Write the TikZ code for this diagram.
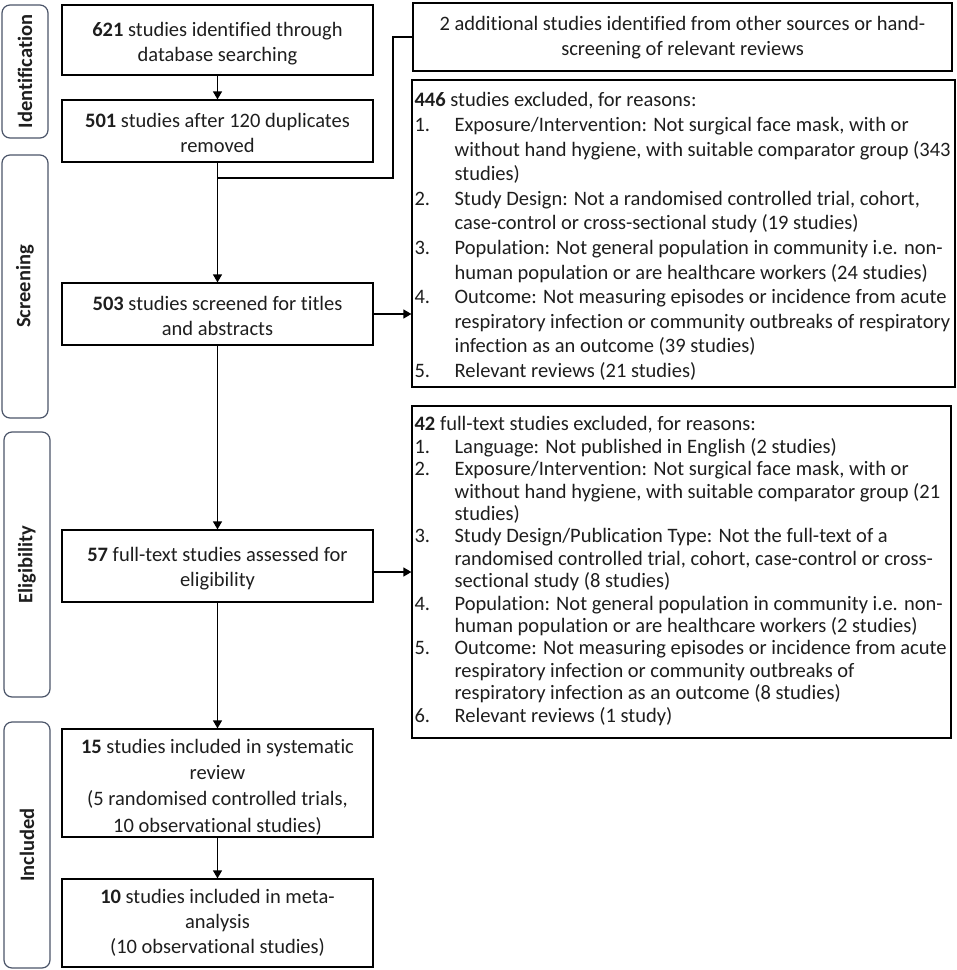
\documentclass[tikz,border=0pt]{standalone}
\usepackage{fontspec}
\setmainfont{Carlito}[Ligatures=NoCommon]
\usetikzlibrary{arrows.meta}
\newcommand\mainboxfont{\fontsize{20.5}{25}\selectfont}
\newcommand\incfont{\fontsize{20.5}{26.3}\selectfont}
\newcommand\listAfont{\fontsize{20.5}{24.6}\selectfont}
\newcommand\listBfont{\fontsize{20.5}{22.4}\selectfont}
\newcommand\itm[1]{\makebox[40pt][l]{#1}}
\newcommand\ind{\hspace*{40pt}}
% strut that pushes a centred block down by #1 pt
\newcommand\dn[1]{\rule{0pt}{\dimexpr 14.5pt+#1pt+#1pt\relax}}
\definecolor{txt}{RGB}{30,30,30}
\definecolor{stage}{RGB}{75,85,105}
\begin{document}
\begin{tikzpicture}[x=1pt,y=-1pt,
  box/.style={draw=black, line width=1.2pt, inner sep=0pt, align=center, text=txt, font=\mainboxfont, minimum width=311pt},
  listbox/.style={draw=black, line width=1.2pt, inner sep=0pt},
  listtext/.style={inner sep=0pt, align=left, text=txt, anchor=west},
  stagebox/.style={draw=stage, line width=1.2pt, rounded corners=8pt, rotate=90, minimum height=46pt, inner sep=0pt, text=txt, font=\mainboxfont\bfseries},
  conn/.style={draw=black, line width=1.2pt},
  arr/.style={conn, -{Triangle[length=8pt,width=9pt]}}
]
\useasboundingbox (0,0) rectangle (957,970);

% stage labels
\node[stagebox, minimum width=133pt] (sid) at (25,71.5) {Identification};
\node[stagebox, minimum width=263pt] (sscr) at (25,286.5) {Screening};
\node[stagebox, minimum width=265pt] (selg) at (27,564.5) {Eligibility};
\node[stagebox, minimum width=246pt] (sinc) at (27,845) {Included};

% main column
\node[box, minimum height=70pt] (b621) at (217.5,40) {\dn{3.5}\textbf{621} studies identified through\\database searching};
\node[box, minimum height=62pt] (b501) at (217.5,131) {\dn{1.5}\textbf{501} studies after 120 duplicates\\removed};
\node[box, minimum height=62pt] (b503) at (217.5,314) {\dn{2}\textbf{503} studies screened for titles\\and abstracts};
\node[box, minimum height=72pt] (b57) at (217.5,566) {\dn{2.5}\textbf{57} full-text studies assessed for\\eligibility};
\node[box, minimum height=108pt, font=\incfont] (b15) at (217.5,783) {\dn{4}\textbf{15} studies included in systematic\\review\\(5 randomised controlled trials,\\10 observational studies)};
\node[box, minimum height=88pt] (b10) at (217.5,923) {\textbf{10} studies included in meta-\\analysis\\(10 observational studies)};

% right column
\node[box, minimum width=539pt, minimum height=68pt] (badd) at (682.5,37) {\dn{1}2 additional studies identified from other sources or hand-\\screening of relevant reviews};

\node[listbox, minimum width=543pt, minimum height=307pt] (b446) at (683.5,233.5) {};
\node[listtext, font=\listAfont] (t446) at ([xshift=3pt,yshift=-3pt]b446.west) {%
\textbf{446} studies excluded, for reasons:\\
\itm{1.}Exposure/Intervention: Not surgical face mask, with or\\
\ind without hand hygiene, with suitable comparator group (343\\
\ind studies)\\
\itm{2.}Study Design: Not a randomised controlled trial, cohort,\\
\ind case-control or cross-sectional study (19 studies)\\
\itm{3.}Population: Not general population in community i.e. non-\\
\ind human population or are healthcare workers (24 studies)\\
\itm{4.}Outcome: Not measuring episodes or incidence from acute\\
\ind respiratory infection or community outbreaks of respiratory\\
\ind infection as an outcome (39 studies)\\
\itm{5.}Relevant reviews (21 studies)};

\node[listbox, minimum width=539pt, minimum height=332pt] (b42) at (681.5,572) {};
\node[listtext, font=\listBfont] (t42) at ([xshift=3pt,yshift=1pt]b42.west) {%
\textbf{42} full-text studies excluded, for reasons:\\
\itm{1.}Language: Not published in English (2 studies)\\
\itm{2.}Exposure/Intervention: Not surgical face mask, with or\\
\ind without hand hygiene, with suitable comparator group (21\\
\ind studies)\\
\itm{3.}Study Design/Publication Type: Not the full-text of a\\
\ind randomised controlled trial, cohort, case-control or cross-\\
\ind sectional study (8 studies)\\
\itm{4.}Population: Not general population in community i.e. non-\\
\ind human population or are healthcare workers (2 studies)\\
\itm{5.}Outcome: Not measuring episodes or incidence from acute\\
\ind respiratory infection or community outbreaks of\\
\ind respiratory infection as an outcome (8 studies)\\
\itm{6.}Relevant reviews (1 study)};

% connectors
\coordinate (jn) at (217.5,178);
\coordinate (bend) at (393,178);
\draw[arr] (b621) -- (b501);
\draw[arr] (b501) -- (b503);
\draw[conn] (badd.west) -| (bend) -- (jn);
\draw[arr] (b503.east) -- (b503.east -| b446.west);
\draw[arr] (b503) -- (b57);
\draw[arr] (b57.east |- b42.west) -- (b42.west);
\draw[arr] (b57) -- (b15);
\draw[arr] (b15) -- (b10);
\end{tikzpicture}
\end{document}
